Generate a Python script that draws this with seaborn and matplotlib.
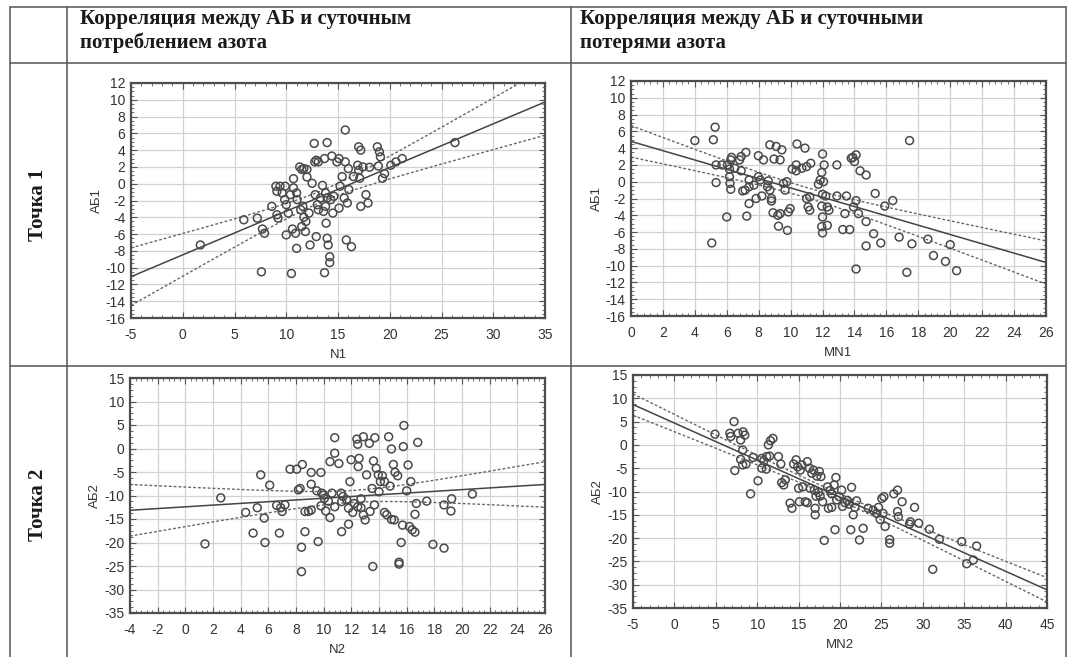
import numpy as np
import matplotlib
matplotlib.use("Agg")
from matplotlib import pyplot as plt
from matplotlib.lines import Line2D
from matplotlib.ticker import MultipleLocator, AutoMinorLocator
import seaborn as sns

# --- данные ---
n1 = [1.7, 5.9, 7.2, 7.7, 7.9, 7.6, 8.6, 9.0, 9.1, 9.1, 9.2, 9.4, 9.6, 9.9, 9.85,
      10.0, 10.0, 10.2, 10.5, 10.4, 10.7, 10.7, 11.0, 10.9, 10.6, 11.0, 11.05, 11.3, 11.5, 11.7,
      12.0, 11.4, 11.6, 11.5, 11.7, 11.9, 11.85, 12.0, 12.2, 12.3, 12.5, 12.7, 12.75, 12.9, 13.1,
      12.8, 12.9, 13.0, 13.1, 13.3, 13.5, 13.6, 13.7, 13.8, 13.95, 13.95, 13.8, 13.85, 13.95, 14.05,
      14.2, 14.2, 13.7, 14.3, 14.4, 14.5, 14.6, 14.9, 15.1, 15.1, 15.2, 15.4, 15.6, 15.7, 15.7,
      15.8, 15.9, 16.0, 16.05, 16.3, 16.5, 16.9, 17.0, 17.0, 17.2, 17.1, 17.2, 17.4, 17.7, 17.9,
      18.05, 18.8, 19.0, 19.1, 18.9, 19.3, 19.5, 20.1, 20.6, 21.2, 26.3]
ab1_n = [-7.3, -4.3, -4.1, -5.4, -5.9, -10.5, -2.7, -0.3, -0.9, -3.7, -4.1, -0.3, -1.1, -0.3, -1.9,
         -2.5, -6.1, -3.5, -10.7, -1.3, 0.6, -0.5, -1.1, -5.9, -5.4, -7.7, -1.9, 2.0, 1.7, 1.8,
         1.7, -3.1, -2.7, -5.1, -4.0, -4.5, -5.7, 0.8, -3.5, -7.3, 0.05, 4.8, 2.6, 2.8, 2.6,
         -1.3, -6.3, -2.5, -3.1, -1.7, -0.2, -3.3, 3.0, -1.1, -1.7, 4.9, -2.7, -4.7, -6.5, -7.3,
         -8.7, -9.4, -10.6, -1.9, 3.3, -3.5, -1.5, 2.6, 3.0, -2.9, -0.3, 0.85, -1.7, 6.4, 2.6,
         -6.7, -2.3, 1.8, -0.7, -7.5, 0.85, 2.2, 1.6, 4.4, 4.0, 0.65, -2.7, 2.0, -1.3, -2.3,
         1.96, 4.4, 3.8, 3.2, 2.1, 0.65, 1.2, 2.2, 2.6, 3.0, 4.9]

mn1 = [4.0, 5.27, 5.16, 5.33, 5.7, 5.33, 5.06, 6.0, 6.04, 6.17, 6.25, 6.3, 6.17, 6.2, 6.25,
       6.5, 6.8, 6.9, 7.2, 6.9, 7.0, 7.15, 7.4, 7.25, 7.4, 7.4, 7.7, 7.98, 8.1, 7.84,
       8.2, 7.98, 8.3, 8.6, 8.55, 8.7, 8.7, 9.1, 9.45, 8.96, 9.34, 8.8, 8.8, 8.9, 9.2,
       9.34, 9.24, 9.55, 9.76, 9.65, 9.8, 9.97, 9.86, 10.1, 10.35, 10.4, 10.9, 10.7, 11.0, 11.26,
       10.35, 11.0, 11.2, 11.1, 11.2, 11.74, 11.85, 12.0, 11.95, 12.1, 12.06, 12.0, 12.2, 12.3, 12.4,
       11.95, 12.0, 11.95, 12.0, 12.3, 12.9, 12.9, 13.5, 13.27, 13.7, 13.4, 13.8, 14.0, 14.1, 13.9,
       13.94, 14.1, 14.35, 14.73, 14.25, 14.1, 14.73, 15.3, 15.2, 14.73, 15.65, 15.9, 16.4, 16.8, 17.28,
       17.45, 17.6, 18.6, 18.95, 19.7, 20.0, 20.4]
ab1_mn = [4.9, 6.5, 5.0, 2.0, 2.0, -0.1, -7.3, -4.2, 2.0, 1.5, 2.6, 2.9, 0.6, -0.2, -0.9,
          1.6, 2.6, 3.0, 3.5, 1.3, -1.1, -1.0, -0.6, -4.1, -2.6, 0.2, -0.4, 0.6, 0.2, -2.0,
          -1.7, 3.1, 2.6, 0.1, -0.6, -1.0, 4.4, 4.2, 3.8, 2.7, 2.6, -2.0, -2.3, -3.7, -4.0,
          -3.8, -5.3, -0.2, 0.0, -1.0, -5.8, -3.2, -3.6, 1.5, 2.0, 4.5, 4.0, 1.6, 1.8, 2.2,
          1.3, -2.0, -1.8, -3.0, -3.4, -0.3, 0.2, 3.3, 1.1, 2.0, 0.0, -1.5, -1.7, -3.0, -3.4,
          -2.9, -4.2, -5.35, -6.1, -5.2, 2.0, -1.7, -1.7, -5.7, -5.7, -3.8, 2.8, 2.4, 3.2, 2.9,
          -3.0, -2.25, 1.3, 0.8, -3.8, -10.4, -4.75, -1.4, -6.2, -7.65, -7.3, -2.9, -2.25, -6.6, -10.8,
          4.9, -7.4, -6.85, -8.8, -9.5, -7.5, -10.6]

n2 = [1.42, 2.56, 4.36, 4.9, 5.2, 5.45, 5.7, 5.76, 6.1, 6.6, 6.8, 6.9, 7.0, 7.2, 7.57,
      8.05, 8.46, 8.17, 8.3, 8.4, 8.65, 8.4, 8.65, 8.9, 9.1, 9.1, 9.1, 9.8, 9.6, 9.5,
      9.86, 9.8, 10.0, 10.05, 10.15, 10.34, 10.46, 10.6, 10.8, 10.46, 10.8, 10.8, 11.1, 11.26, 11.3,
      11.3, 11.4, 11.66, 11.8, 11.9, 11.8, 11.98, 12.1, 12.2, 12.46, 12.5, 12.56, 12.7, 12.7, 12.87,
      12.4, 12.46, 12.87, 13.3, 13.7, 13.0, 13.1, 13.35, 13.67, 13.5, 13.6, 13.8, 13.95, 13.55, 14.0,
      14.1, 14.24, 14.4, 14.4, 14.56, 14.7, 14.9, 15.04, 15.16, 15.35, 14.8, 14.9, 15.1, 15.45, 15.45,
      15.6, 15.7, 16.2, 16.4, 16.6, 15.76, 15.8, 16.1, 16.0, 16.3, 16.6, 16.7, 16.8, 17.45, 17.9,
      18.7, 18.7, 19.2, 19.25, 20.75]
ab2_n = [-20.3, -10.5, -13.6, -18.0, -12.6, -5.6, -14.8, -20.0, -7.8, -12.1, -18.0, -12.6, -13.4, -12.0, -4.4,
         -4.4, -3.4, -8.8, -8.5, -21.0, -17.7, -26.2, -13.4, -13.4, -13.1, -5.1, -7.6, -5.1, -19.8, -9.0,
         -9.5, -12.2, -9.9, -10.6, -13.3, -11.2, -14.7, -9.5, -12.4, -2.8, 2.3, -1.0, -3.2, -9.5, -11.3,
         -17.7, -10.2, -10.9, -12.7, -7.05, -16.1, -2.4, -13.6, -11.7, -12.4, -3.86, -2.1, -10.7, -12.6, -14.1,
         2.0, 0.9, 2.5, 1.1, 2.3, -15.2, -5.6, -13.4, -12.0, -8.5, -2.65, -4.2, -5.6, -25.1, -9.2,
         -7.05, -5.8, -7.05, -13.6, -14.1, 2.5, -0.1, -3.4, -5.06, -5.8, -8.0, -15.1, -15.2, -24.2, -24.6,
         -20.0, -16.3, -16.6, -17.3, -17.8, 0.4, 4.9, -3.5, -9.0, -7.05, -14.0, -11.7, 1.3, -11.2, -20.4,
         -12.0, -21.2, -13.3, -10.7, -9.7]

mn2 = [4.9, 7.2, 6.7, 6.8, 7.7, 8.3, 8.5, 8.0, 8.25, 7.3, 8.0, 8.25, 8.65, 9.2, 9.5,
       10.1, 10.55, 10.8, 11.15, 11.5, 10.55, 11.1, 11.35, 11.6, 11.9, 12.56, 12.85, 12.96, 13.2, 13.4,
       13.97, 14.2, 14.4, 14.7, 14.9, 15.2, 15.4, 15.0, 15.5, 15.1, 15.8, 16.05, 16.3, 16.6, 16.8,
       17.2, 17.5, 17.7, 16.05, 16.4, 16.9, 17.1, 17.4, 17.6, 17.9, 17.0, 17.0, 18.1, 18.5, 18.8,
       19.0, 19.3, 19.5, 19.6, 19.9, 20.2, 20.3, 20.6, 19.4, 19.0, 18.6, 20.9, 21.1, 21.4, 21.6,
       21.8, 22.0, 21.3, 22.35, 22.8, 23.4, 24.0, 24.45, 24.65, 24.85, 25.2, 25.45, 25.05, 25.3, 26.0,
       26.0, 26.5, 26.95, 27.5, 26.95, 27.05, 28.4, 28.5, 29.0, 29.5, 30.8, 31.2, 32.0, 34.7, 35.3,
       36.1, 36.5]
ab2_mn = [2.3, 5.0, 2.5, 1.8, 2.5, 2.8, 2.1, 1.05, -1.1, -5.5, -3.1, -4.3, -4.1, -10.5, -2.7,
          -7.7, -2.9, -3.4, -2.5, -2.4, -5.0, -5.2, 0.0, 0.9, 1.4, -2.5, -4.1, -8.1, -8.6, -7.5,
          -12.5, -13.6, -4.1, -3.2, -4.7, -5.4, -4.3, -9.3, -9.0, -12.2, -12.2, -3.6, -5.0, -6.1, -5.4,
          -6.7, -5.7, -6.8, -12.4, -9.3, -9.7, -11.0, -10.2, -11.0, -12.2, -13.6, -15.0, -20.5, -9.0, -9.8,
          -10.5, -8.6, -7.0, -11.8, -11.1, -9.7, -13.2, -12.4, -18.2, -13.4, -13.6, -11.9, -12.7, -9.1, -15.0,
          -13.4, -12.0, -18.2, -20.4, -17.9, -13.6, -14.0, -14.7, -13.4, -16.0, -14.7, -17.5, -11.5, -11.1, -20.3,
          -21.1, -10.5, -9.7, -12.2, -14.3, -15.4, -17.0, -16.5, -13.4, -16.8, -18.1, -26.7, -20.25, -20.75, -25.5,
          -24.7, -21.7]

headers = ["Корреляция между АБ и суточным\nпотреблением азота",
           "Корреляция между АБ и суточными\nпотерями азота"]
rows = ["Точка 1", "Точка 2"]

sns.set_style("white")
plt.rcParams['font.family'] = ['Liberation Sans', 'DejaVu Sans']
plt.rcParams['axes.unicode_minus'] = False

W, H = 1069, 657
fig = plt.figure(figsize=(W / 100, H / 100), dpi=100)


def rect(l, t, r, b):
    return [l / W, 1 - b / H, (r - l) / W, (b - t) / H]


def hline(y, x0, x1):
    fig.add_artist(Line2D([x0 / W, x1 / W], [1 - y / H, 1 - y / H], color='#555555', lw=1.1))


def vline(x, y0, y1):
    fig.add_artist(Line2D([x / W, x / W], [1 - y0 / H, 1 - y1 / H], color='#555555', lw=1.1))


def panel(box, x, y, xlim, xstep, ylim, ystep, xlabel, ylabel):
    ax = fig.add_axes(rect(*box))
    x = np.asarray(x); y = np.asarray(y)
    # регрессия и 95% доверительный интервал
    b, a = np.polyfit(x, y, 1)
    n = len(x)
    s = np.sqrt(np.sum((y - (a + b * x)) ** 2) / (n - 2))
    sxx = np.sum((x - x.mean()) ** 2)
    xs = np.linspace(xlim[0], xlim[1], 200)
    yh = a + b * xs
    half = 1.98 * s * np.sqrt(1 / n + (xs - x.mean()) ** 2 / sxx)
    sns.lineplot(x=xs, y=yh, ax=ax, color='#444444', lw=1.1)
    sns.lineplot(x=xs, y=yh + half, ax=ax, color='#666666', lw=1.0, linestyle=(0, (2, 1.5)))
    sns.lineplot(x=xs, y=yh - half, ax=ax, color='#666666', lw=1.0, linestyle=(0, (2, 1.5)))
    sns.scatterplot(x=x, y=y, ax=ax, marker='o', s=32, color='#4a4a4a',
                    linewidth=1.1, zorder=3)
    ax.collections[-1].set_facecolor('none')
    ax.collections[-1].set_edgecolor('#4a4a4a')
    ax.set_xlim(xlim); ax.set_ylim(ylim)
    ax.xaxis.set_major_locator(MultipleLocator(xstep))
    ax.yaxis.set_major_locator(MultipleLocator(ystep))
    ax.xaxis.set_minor_locator(AutoMinorLocator(5))
    ax.yaxis.set_minor_locator(AutoMinorLocator(4))
    ax.grid(True, which='major', color='#d2d2d2', lw=0.9)
    ax.tick_params(which='both', direction='in', top=True, right=True, bottom=True, left=True,
                   colors='#555555', labelcolor='#333333', labelsize=10)
    ax.tick_params(axis='x', which='major', pad=7)
    ax.tick_params(axis='y', which='major', pad=4)
    ax.tick_params(which='major', length=4, width=0.8)
    ax.tick_params(which='minor', length=2, width=0.6)
    for sp in ax.spines.values():
        sp.set_color('#4d4d4d'); sp.set_linewidth(1.6); sp.set_visible(True)
    ax.set_xlabel(xlabel, fontsize=9.5, color='#333333', labelpad=5)
    ax.set_ylabel(ylabel, fontsize=9.5, color='#333333', labelpad=2)
    return ax


panel((131, 83, 545, 318), n1, ab1_n, (-5, 35), 5, (-16, 12), 2, "N1", "АБ1")
panel((631, 81, 1046, 316), mn1, ab1_mn, (0, 26), 2, (-16, 12), 2, "MN1", "АБ1")
panel((130, 378, 545, 613), n2, ab2_n, (-4, 26), 2, (-35, 15), 5, "N2", "АБ2")
panel((633, 375, 1047, 608), mn2, ab2_mn, (-5, 45), 5, (-35, 15), 5, "MN2", "АБ2")

# таблица
hline(7, 10, 1066)
hline(63, 10, 1066)
hline(366, 10, 1066)
vline(10, 7, 657)
vline(67, 7, 657)
vline(571, 7, 657)
vline(1066, 7, 657)

serif = ['Liberation Serif', 'DejaVu Serif']
fig.text(80 / W, 1 - 9 / H, headers[0], family=serif, weight='bold', fontsize=15,
         ha='left', va='top', linespacing=1.25, color='#1a1a1a')
fig.text(580 / W, 1 - 9 / H, headers[1], family=serif, weight='bold', fontsize=15,
         ha='left', va='top', linespacing=1.25, color='#1a1a1a')
fig.text(38 / W, 1 - 205 / H, rows[0], family=serif, weight='bold', fontsize=15,
         rotation=90, ha='center', va='center', color='#1a1a1a')
fig.text(38 / W, 1 - 505 / H, rows[1], family=serif, weight='bold', fontsize=15,
         rotation=90, ha='center', va='center', color='#1a1a1a')

fig.savefig("out.png", dpi=100)
